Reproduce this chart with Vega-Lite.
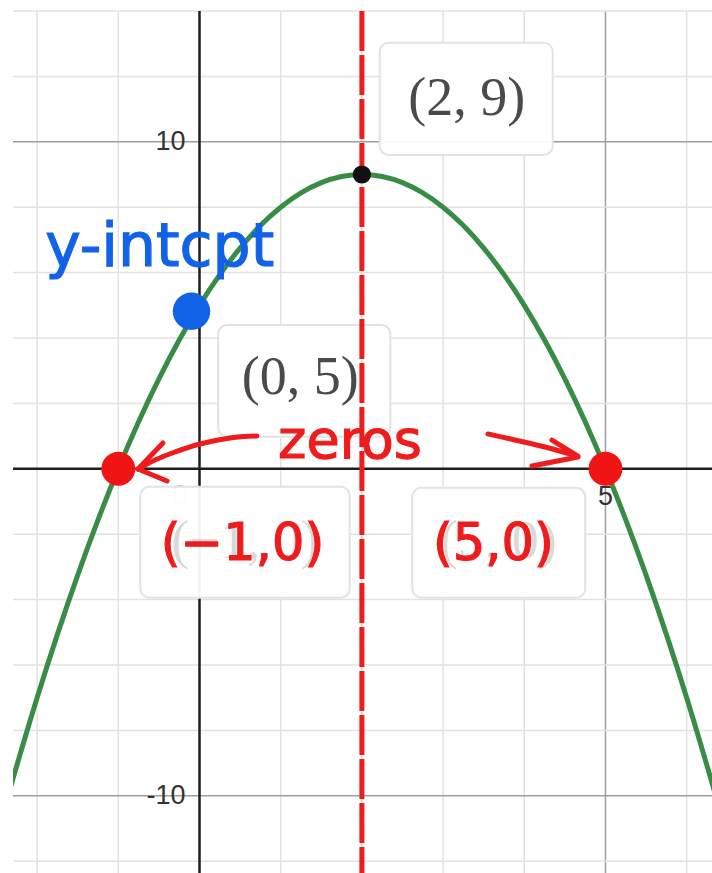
{
  "$schema": "https://vega.github.io/schema/vega-lite/v6.json",
  "width": 699,
  "height": 862,
  "autosize": {"type": "none"},
  "padding": {"left": 13, "top": 11, "right": 0, "bottom": 0},
  "background": "white",
  "config": {"view": {"stroke": null}, "axis": {"disable": true}},
  "datasets": {
    "curve": [
      {"x": -2.35, "y": -9.9225}, {"x": -2, "y": -7}, {"x": -1.75, "y": -5.0625}, {"x": -1.5, "y": -3.25},
      {"x": -1.25, "y": -1.5625}, {"x": -1, "y": 0}, {"x": -0.75, "y": 1.4375}, {"x": -0.5, "y": 2.75},
      {"x": -0.25, "y": 3.9375}, {"x": 0, "y": 5}, {"x": 0.25, "y": 5.9375}, {"x": 0.5, "y": 6.75},
      {"x": 0.75, "y": 7.4375}, {"x": 1, "y": 8}, {"x": 1.25, "y": 8.4375}, {"x": 1.5, "y": 8.75},
      {"x": 1.75, "y": 8.9375}, {"x": 2, "y": 9}, {"x": 2.25, "y": 8.9375}, {"x": 2.5, "y": 8.75},
      {"x": 2.75, "y": 8.4375}, {"x": 3, "y": 8}, {"x": 3.25, "y": 7.4375}, {"x": 3.5, "y": 6.75},
      {"x": 3.75, "y": 5.9375}, {"x": 4, "y": 5}, {"x": 4.25, "y": 3.9375}, {"x": 4.5, "y": 2.75},
      {"x": 4.75, "y": 1.4375}, {"x": 5, "y": 0}, {"x": 5.25, "y": -1.5625}, {"x": 5.5, "y": -3.25},
      {"x": 5.75, "y": -5.0625}, {"x": 6, "y": -7}, {"x": 6.35, "y": -9.9225}
    ],
    "xgrid": [{"v": -2}, {"v": -1}, {"v": 1}, {"v": 2}, {"v": 3}, {"v": 4}, {"v": 5}, {"v": 6}],
    "ygrid": [{"v": -12}, {"v": -10}, {"v": -8}, {"v": -6}, {"v": -4}, {"v": -2}, {"v": 2}, {"v": 4}, {"v": 6}, {"v": 8}, {"v": 10}, {"v": 12}, {"v": 14}],
    "ylabels": [{"x": 0, "y": 10, "t": "10"}, {"x": 0, "y": -10, "t": "-10"}],
    "xlabels": [{"x": 5, "y": 0, "t": "5"}],
    "origin": [{"x": 0, "y": 0, "t": "0"}],
    "labels": [
      {"label": "(2, 9)", "bx": 2.22, "bx2": 4.35, "by": 9.6, "by2": 13.03, "tx": 3.29, "ty": 10.82, "ink": "plain"},
      {"label": "(0, 5)", "bx": 0.23, "bx2": 2.35, "by": 0.98, "by2": 4.4, "tx": 1.24, "ty": 2.3, "ink": "plain"},
      {"label": "(−1, 0)", "bx": -0.73, "bx2": 1.85, "by": -3.94, "by2": -0.55, "tx": 0.56, "ty": -2.72, "ink": "over"},
      {"label": "(5, 0)", "bx": 2.62, "bx2": 4.75, "by": -3.94, "by2": -0.58, "tx": 3.68, "ty": -2.72, "ink": "over"}
    ],
    "points": [
      {"x": 2, "y": 9, "kind": "vertex"},
      {"x": -1, "y": 0, "kind": "zero"},
      {"x": 5, "y": 0, "kind": "zero"},
      {"x": 0, "y": 5, "kind": "yint"}
    ],
    "notes": [
      {"t": "(−1,0)", "x": 0.53, "y": -2.78},
      {"t": "(5,0)", "x": 3.62, "y": -2.78}
    ],
    "arrows": [
      {"s": "left", "i": 0, "x": 0.708, "y": 1.003},
      {"s": "left", "i": 1, "x": 0.376, "y": 0.942},
      {"s": "left", "i": 2, "x": 0.006, "y": 0.758},
      {"s": "left", "i": 3, "x": -0.302, "y": 0.514},
      {"s": "left", "i": 4, "x": -0.548, "y": 0.269},
      {"s": "left", "i": 5, "x": -0.757, "y": -0.006},
      {"s": "left-up", "i": 0, "x": -0.45, "y": 0.789},
      {"s": "left-up", "i": 1, "x": -0.757, "y": -0.006},
      {"s": "left-low", "i": 0, "x": -0.4, "y": -0.373},
      {"s": "left-low", "i": 1, "x": -0.757, "y": -0.006},
      {"s": "right", "i": 0, "x": 3.553, "y": 1.067},
      {"s": "right", "i": 1, "x": 3.886, "y": 0.881},
      {"s": "right", "i": 2, "x": 4.255, "y": 0.667},
      {"s": "right", "i": 3, "x": 4.649, "y": 0.391},
      {"s": "right-up", "i": 0, "x": 4.341, "y": 0.881},
      {"s": "right-up", "i": 1, "x": 4.661, "y": 0.391},
      {"s": "right-low", "i": 0, "x": 4.095, "y": 0.086},
      {"s": "right-low", "i": 1, "x": 4.661, "y": 0.361}
    ]
  },
  "layer": [
    {
      "data": {"name": "xgrid"},
      "mark": {"type": "rule", "strokeWidth": 1.5},
      "encoding": {
        "x": {"field": "v", "type": "quantitative", "scale": {"domain": [-2.297, 6.312], "nice": false, "zero": false}},
        "color": {"condition": {"test": "datum.v === 5", "value": "#9e9e9e"}, "value": "#e2e2e2"}
      }
    },
    {
      "data": {"name": "ygrid"},
      "mark": {"type": "rule", "strokeWidth": 1.5},
      "encoding": {
        "y": {"field": "v", "type": "quantitative", "scale": {"domain": [-12.36, 14], "nice": false, "zero": false}},
        "color": {"condition": {"test": "abs(datum.v) === 10", "value": "#9e9e9e"}, "value": "#e2e2e2"}
      }
    },
    {
      "data": {"values": [{}]},
      "mark": {"type": "rule", "color": "#1e1e1e", "strokeWidth": 2.5},
      "encoding": {"x": {"datum": 0, "type": "quantitative"}}
    },
    {
      "data": {"values": [{}]},
      "mark": {"type": "rule", "color": "#1e1e1e", "strokeWidth": 2.5},
      "encoding": {"y": {"datum": 0, "type": "quantitative"}}
    },
    {
      "data": {"name": "ylabels"},
      "mark": {"type": "text", "font": "Liberation Sans", "fontSize": 27, "color": "#333333", "align": "right", "baseline": "middle", "dx": -14},
      "encoding": {
        "x": {"field": "x", "type": "quantitative"},
        "y": {"field": "y", "type": "quantitative"},
        "text": {"field": "t"}
      }
    },
    {
      "data": {"name": "xlabels"},
      "mark": {"type": "text", "font": "Liberation Sans", "fontSize": 27, "color": "#333333", "align": "center", "baseline": "middle", "dy": 28},
      "encoding": {
        "x": {"field": "x", "type": "quantitative"},
        "y": {"field": "y", "type": "quantitative"},
        "text": {"field": "t"}
      }
    },
    {
      "data": {"name": "origin"},
      "mark": {"type": "text", "font": "Liberation Sans", "fontSize": 27, "color": "#333333", "opacity": 0.35, "align": "right", "baseline": "middle", "dx": -12, "dy": 27},
      "encoding": {
        "x": {"field": "x", "type": "quantitative"},
        "y": {"field": "y", "type": "quantitative"},
        "text": {"field": "t"}
      }
    },
    {
      "data": {"name": "curve"},
      "mark": {"type": "line", "color": "#388c46", "strokeWidth": 5, "clip": true, "interpolate": "monotone"},
      "encoding": {
        "x": {"field": "x", "type": "quantitative"},
        "y": {"field": "y", "type": "quantitative"}
      }
    },
    {
      "data": {"name": "labels"},
      "mark": {"type": "rect", "fill": "white", "fillOpacity": 0.95, "stroke": "#e3e3e3", "strokeWidth": 2, "cornerRadius": 9},
      "encoding": {
        "x": {"field": "bx", "type": "quantitative"},
        "x2": {"field": "bx2"},
        "y": {"field": "by", "type": "quantitative"},
        "y2": {"field": "by2"}
      }
    },
    {
      "data": {"name": "labels"},
      "mark": {"type": "text", "font": "Liberation Serif", "fontSize": 54, "color": "#4a4a4a", "align": "center", "baseline": "alphabetic"},
      "encoding": {
        "x": {"field": "tx", "type": "quantitative"},
        "y": {"field": "ty", "type": "quantitative"},
        "text": {"field": "label"},
        "opacity": {"condition": {"test": "datum.ink === 'over'", "value": 0.2}, "value": 1}
      }
    },
    {
      "data": {"values": [{}]},
      "mark": {"type": "rule", "color": "#ee1c1c", "strokeWidth": 5, "strokeDash": [40, 4]},
      "encoding": {"x": {"datum": 2, "type": "quantitative"}}
    },
    {
      "data": {"name": "points"},
      "transform": [{"filter": "datum.kind === 'vertex'"}],
      "mark": {"type": "point", "filled": true, "shape": "circle", "color": "#111111", "opacity": 1, "size": 330},
      "encoding": {
        "x": {"field": "x", "type": "quantitative"},
        "y": {"field": "y", "type": "quantitative"}
      }
    },
    {
      "data": {"name": "points"},
      "transform": [{"filter": "datum.kind === 'zero'"}],
      "mark": {"type": "point", "filled": true, "shape": "circle", "color": "#f01414", "opacity": 1, "size": 1150},
      "encoding": {
        "x": {"field": "x", "type": "quantitative"},
        "y": {"field": "y", "type": "quantitative"}
      }
    },
    {
      "data": {"name": "points"},
      "transform": [{"filter": "datum.kind === 'yint'"}],
      "mark": {"type": "point", "filled": true, "shape": "circle", "color": "#1262e8", "opacity": 1, "size": 1400, "xOffset": -8, "yOffset": 6},
      "encoding": {
        "x": {"field": "x", "type": "quantitative"},
        "y": {"field": "y", "type": "quantitative"}
      }
    },
    {
      "data": {"values": [{"t": "y-intcpt"}]},
      "mark": {"type": "text", "font": "DejaVu Sans", "fontSize": 60, "color": "#1262e8", "stroke": "#1262e8", "strokeWidth": 1.2, "align": "center", "baseline": "alphabetic"},
      "encoding": {
        "x": {"datum": -0.49, "type": "quantitative"},
        "y": {"datum": 6.21, "type": "quantitative"},
        "text": {"field": "t"}
      }
    },
    {
      "data": {"values": [{"t": "zeros"}]},
      "mark": {"type": "text", "font": "DejaVu Sans", "fontSize": 54, "color": "#ee1c1c", "stroke": "#ee1c1c", "strokeWidth": 1.2, "align": "center", "baseline": "alphabetic"},
      "encoding": {
        "x": {"datum": 1.853, "type": "quantitative"},
        "y": {"datum": 0.336, "type": "quantitative"},
        "text": {"field": "t"}
      }
    },
    {
      "data": {"name": "notes"},
      "mark": {"type": "text", "font": "DejaVu Sans", "fontSize": 51, "color": "#ee1c1c", "stroke": "#ee1c1c", "strokeWidth": 1.2, "align": "center", "baseline": "alphabetic"},
      "encoding": {
        "x": {"field": "x", "type": "quantitative"},
        "y": {"field": "y", "type": "quantitative"},
        "text": {"field": "t"}
      }
    },
    {
      "data": {"name": "arrows"},
      "mark": {"type": "line", "color": "#ee1c1c", "strokeWidth": 5, "strokeCap": "round", "strokeJoin": "round", "interpolate": "cardinal"},
      "encoding": {
        "x": {"field": "x", "type": "quantitative"},
        "y": {"field": "y", "type": "quantitative"},
        "detail": {"field": "s"},
        "order": {"field": "i", "type": "quantitative"}
      }
    }
  ]
}
